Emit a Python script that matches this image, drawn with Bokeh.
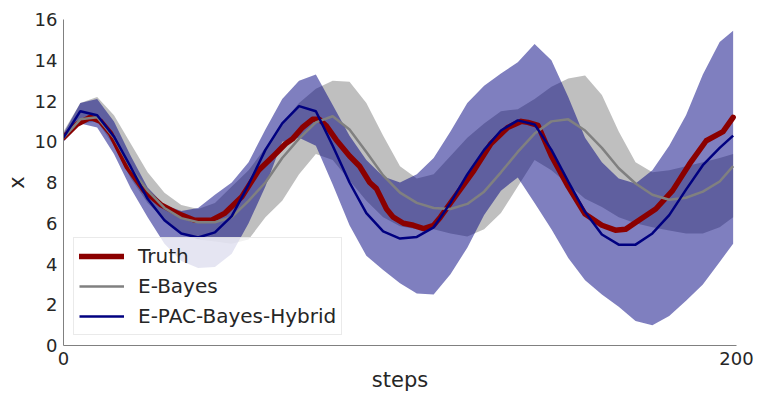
from bokeh.plotting import figure
from bokeh.models import Legend, LegendItem, FixedTicker, Range1d
from bokeh.embed import file_html
from bokeh.resources import INLINE

steps = [0, 5, 10, 15, 20, 25, 30, 35, 40, 45, 50, 55, 60, 65, 70, 75, 80, 85, 90, 95,
         100, 105, 110, 115, 120, 125, 130, 135, 140, 145, 150, 155, 160, 165, 170, 175,
         180, 185, 190, 195, 199]

truth_steps = [0, 4, 8, 11, 14, 19, 24, 29, 34, 39, 44, 48, 53, 58, 63, 66, 68, 71, 74, 76,
               78, 81, 85, 88, 91, 93, 96, 98, 101, 104, 107, 110, 112, 117, 122, 127, 132,
               136, 138, 141, 145, 150, 155, 160, 164, 167, 171, 176, 181, 186, 191, 196, 199]
truth = [10.2, 10.86, 11.2, 11.0, 10.4, 8.75, 7.6, 6.9, 6.47, 6.15,
         6.15, 6.5, 7.3, 8.6, 9.4, 9.9, 10.13, 10.7, 11.1, 11.1,
         10.8, 10.1, 9.3, 8.8, 8.0, 7.7, 6.7, 6.3, 6.0, 5.9,
         5.74, 5.9, 6.3, 7.45, 8.6, 9.9, 10.7, 11.0, 10.95, 10.8,
         9.3, 7.8, 6.45, 5.9, 5.66, 5.7, 6.15, 6.7, 7.6, 8.9,
         10.05, 10.5, 11.2]

ebayes = [10.2, 11.1, 11.2, 10.2, 8.7, 7.6, 6.75, 6.25, 6.05, 6.05,
          6.3, 7.1, 8.0, 9.2, 10.15, 10.95, 11.25, 10.6, 9.5, 8.35,
          7.5, 7.0, 6.75, 6.7, 6.95, 7.55, 8.5, 9.5, 10.4, 11.0,
          11.1, 10.55, 9.7, 8.7, 7.95, 7.4, 7.15, 7.25, 7.55, 8.05, 8.8]
ebayes_lo = [10.1, 10.9, 11.0, 9.8, 8.2, 7.0, 6.2, 5.5, 5.2, 5.1,
             5.0, 5.2, 6.3, 7.1, 8.4, 9.4, 9.1, 8.1, 7.1, 6.3,
             5.85, 5.7, 5.7, 5.5, 5.35, 5.7, 6.5, 7.8, 9.1, 8.6,
             7.9, 7.2, 6.8, 6.3, 6.0, 5.8, 5.65, 5.5, 5.5, 5.8, 6.3]
ebayes_hi = [10.5, 11.9, 12.2, 11.3, 9.9, 8.5, 7.5, 6.9, 6.7, 7.0,
             7.8, 8.6, 9.7, 10.9, 11.9, 12.6, 13.0, 12.95, 11.9, 10.3,
             8.8, 8.2, 8.4, 9.3, 10.2, 10.9, 11.5, 11.6, 12.1, 12.7,
             13.1, 13.25, 12.3, 10.5, 9.0, 8.5, 8.6, 8.8, 9.0, 9.2, 9.4]

hybrid = [10.2, 11.5, 11.3, 10.25, 8.75, 7.2, 6.15, 5.5, 5.3, 5.55,
          6.35, 7.9, 9.6, 10.9, 11.75, 11.5, 9.8, 8.0, 6.5, 5.6,
          5.25, 5.33, 5.8, 7.0, 8.4, 9.6, 10.55, 11.05, 10.85, 9.6,
          8.05, 6.55, 5.45, 4.95, 4.95, 5.5, 6.4, 7.65, 8.85, 9.7, 10.3]
hybrid_lo = [10.0, 10.9, 10.7, 9.4, 7.7, 6.3, 5.0, 4.15, 3.8, 3.85,
             4.5, 6.0, 7.8, 10.0, 10.2, 9.8, 7.9, 5.9, 4.4, 3.7,
             3.05, 2.55, 2.5, 3.5, 4.8, 6.4, 7.6, 8.25, 7.0, 5.7,
             4.3, 3.2, 2.5, 1.9, 1.2, 1.0, 1.45, 2.2, 3.0, 4.1, 5.0]
hybrid_hi = [10.4, 11.9, 12.1, 11.0, 9.3, 7.75, 6.9, 6.6, 6.75, 7.4,
             8.0, 9.0, 10.6, 12.1, 13.0, 13.3, 11.8, 10.3, 9.1, 8.3,
             8.0, 8.4, 9.2, 10.5, 11.9, 12.75, 13.35, 13.9, 14.8, 14.0,
             12.2, 10.2, 9.0, 8.2, 7.95, 8.6, 9.8, 11.3, 13.3, 14.9, 15.45]

x_ticks = [0, 200]
y_ticks = [0, 2, 4, 6, 8, 10, 12, 14, 16]

FONT = "DejaVu Sans"
TXT = "#262626"

p = figure(frame_width=673, frame_height=326, output_backend="svg", toolbar_location=None,
           x_range=Range1d(0, 200), y_range=Range1d(0, 16),
           min_border_left=63, min_border_right=22, min_border_top=19, min_border_bottom=50)

p.varea(x=steps, y1=ebayes_lo, y2=ebayes_hi, fill_color="#808080", fill_alpha=0.5)
p.varea(x=steps, y1=hybrid_lo, y2=hybrid_hi, fill_color="#000080", fill_alpha=0.5)
r_truth = p.line(truth_steps, truth, line_color="#8b0000", line_width=5.5,
                 line_join="round", line_cap="round")
r_eb = p.line(steps, ebayes, line_color="#808080", line_width=2.5)
r_hy = p.line(steps, hybrid, line_color="#000080", line_width=2.5)

legend = Legend(items=[LegendItem(label="Truth", renderers=[r_truth]),
                       LegendItem(label="E-Bayes", renderers=[r_eb]),
                       LegendItem(label="E-PAC-Bayes-Hybrid", renderers=[r_hy])],
                location="bottom_left", margin=10, padding=5, spacing=4,
                glyph_width=45, glyph_height=26, label_standoff=14,
                label_text_font=FONT, label_text_font_size="20px", label_text_color=TXT,
                border_line_color="#d6d6d6", border_line_width=1,
                background_fill_color="white", background_fill_alpha=0.8)
p.add_layout(legend)

p.xgrid.visible = False
p.ygrid.visible = False
p.outline_line_color = None

p.xaxis.ticker = FixedTicker(ticks=x_ticks)
p.yaxis.ticker = FixedTicker(ticks=y_ticks)
p.xaxis.axis_label = "steps"
p.yaxis.axis_label = "x"
for ax in (p.xaxis, p.yaxis):
    ax.axis_line_color = "#808080"
    ax.axis_line_width = 1
    ax.major_tick_line_color = None
    ax.minor_tick_line_color = None
    ax.major_tick_out = 0
    ax.major_tick_in = 0
    ax.minor_tick_out = 0
    ax.minor_tick_in = 0
    ax.major_label_text_font = FONT
    ax.major_label_text_font_size = "18px"
    ax.major_label_text_color = TXT
    ax.axis_label_text_font = FONT
    ax.axis_label_text_font_size = "21px"
    ax.axis_label_text_font_style = "normal"
    ax.axis_label_text_color = TXT
p.xaxis.major_label_standoff = 6
p.yaxis.major_label_standoff = 6
p.xaxis.axis_label_standoff = 0
p.yaxis.axis_label_standoff = 3

open("out.html", "w").write(file_html(p, INLINE))
